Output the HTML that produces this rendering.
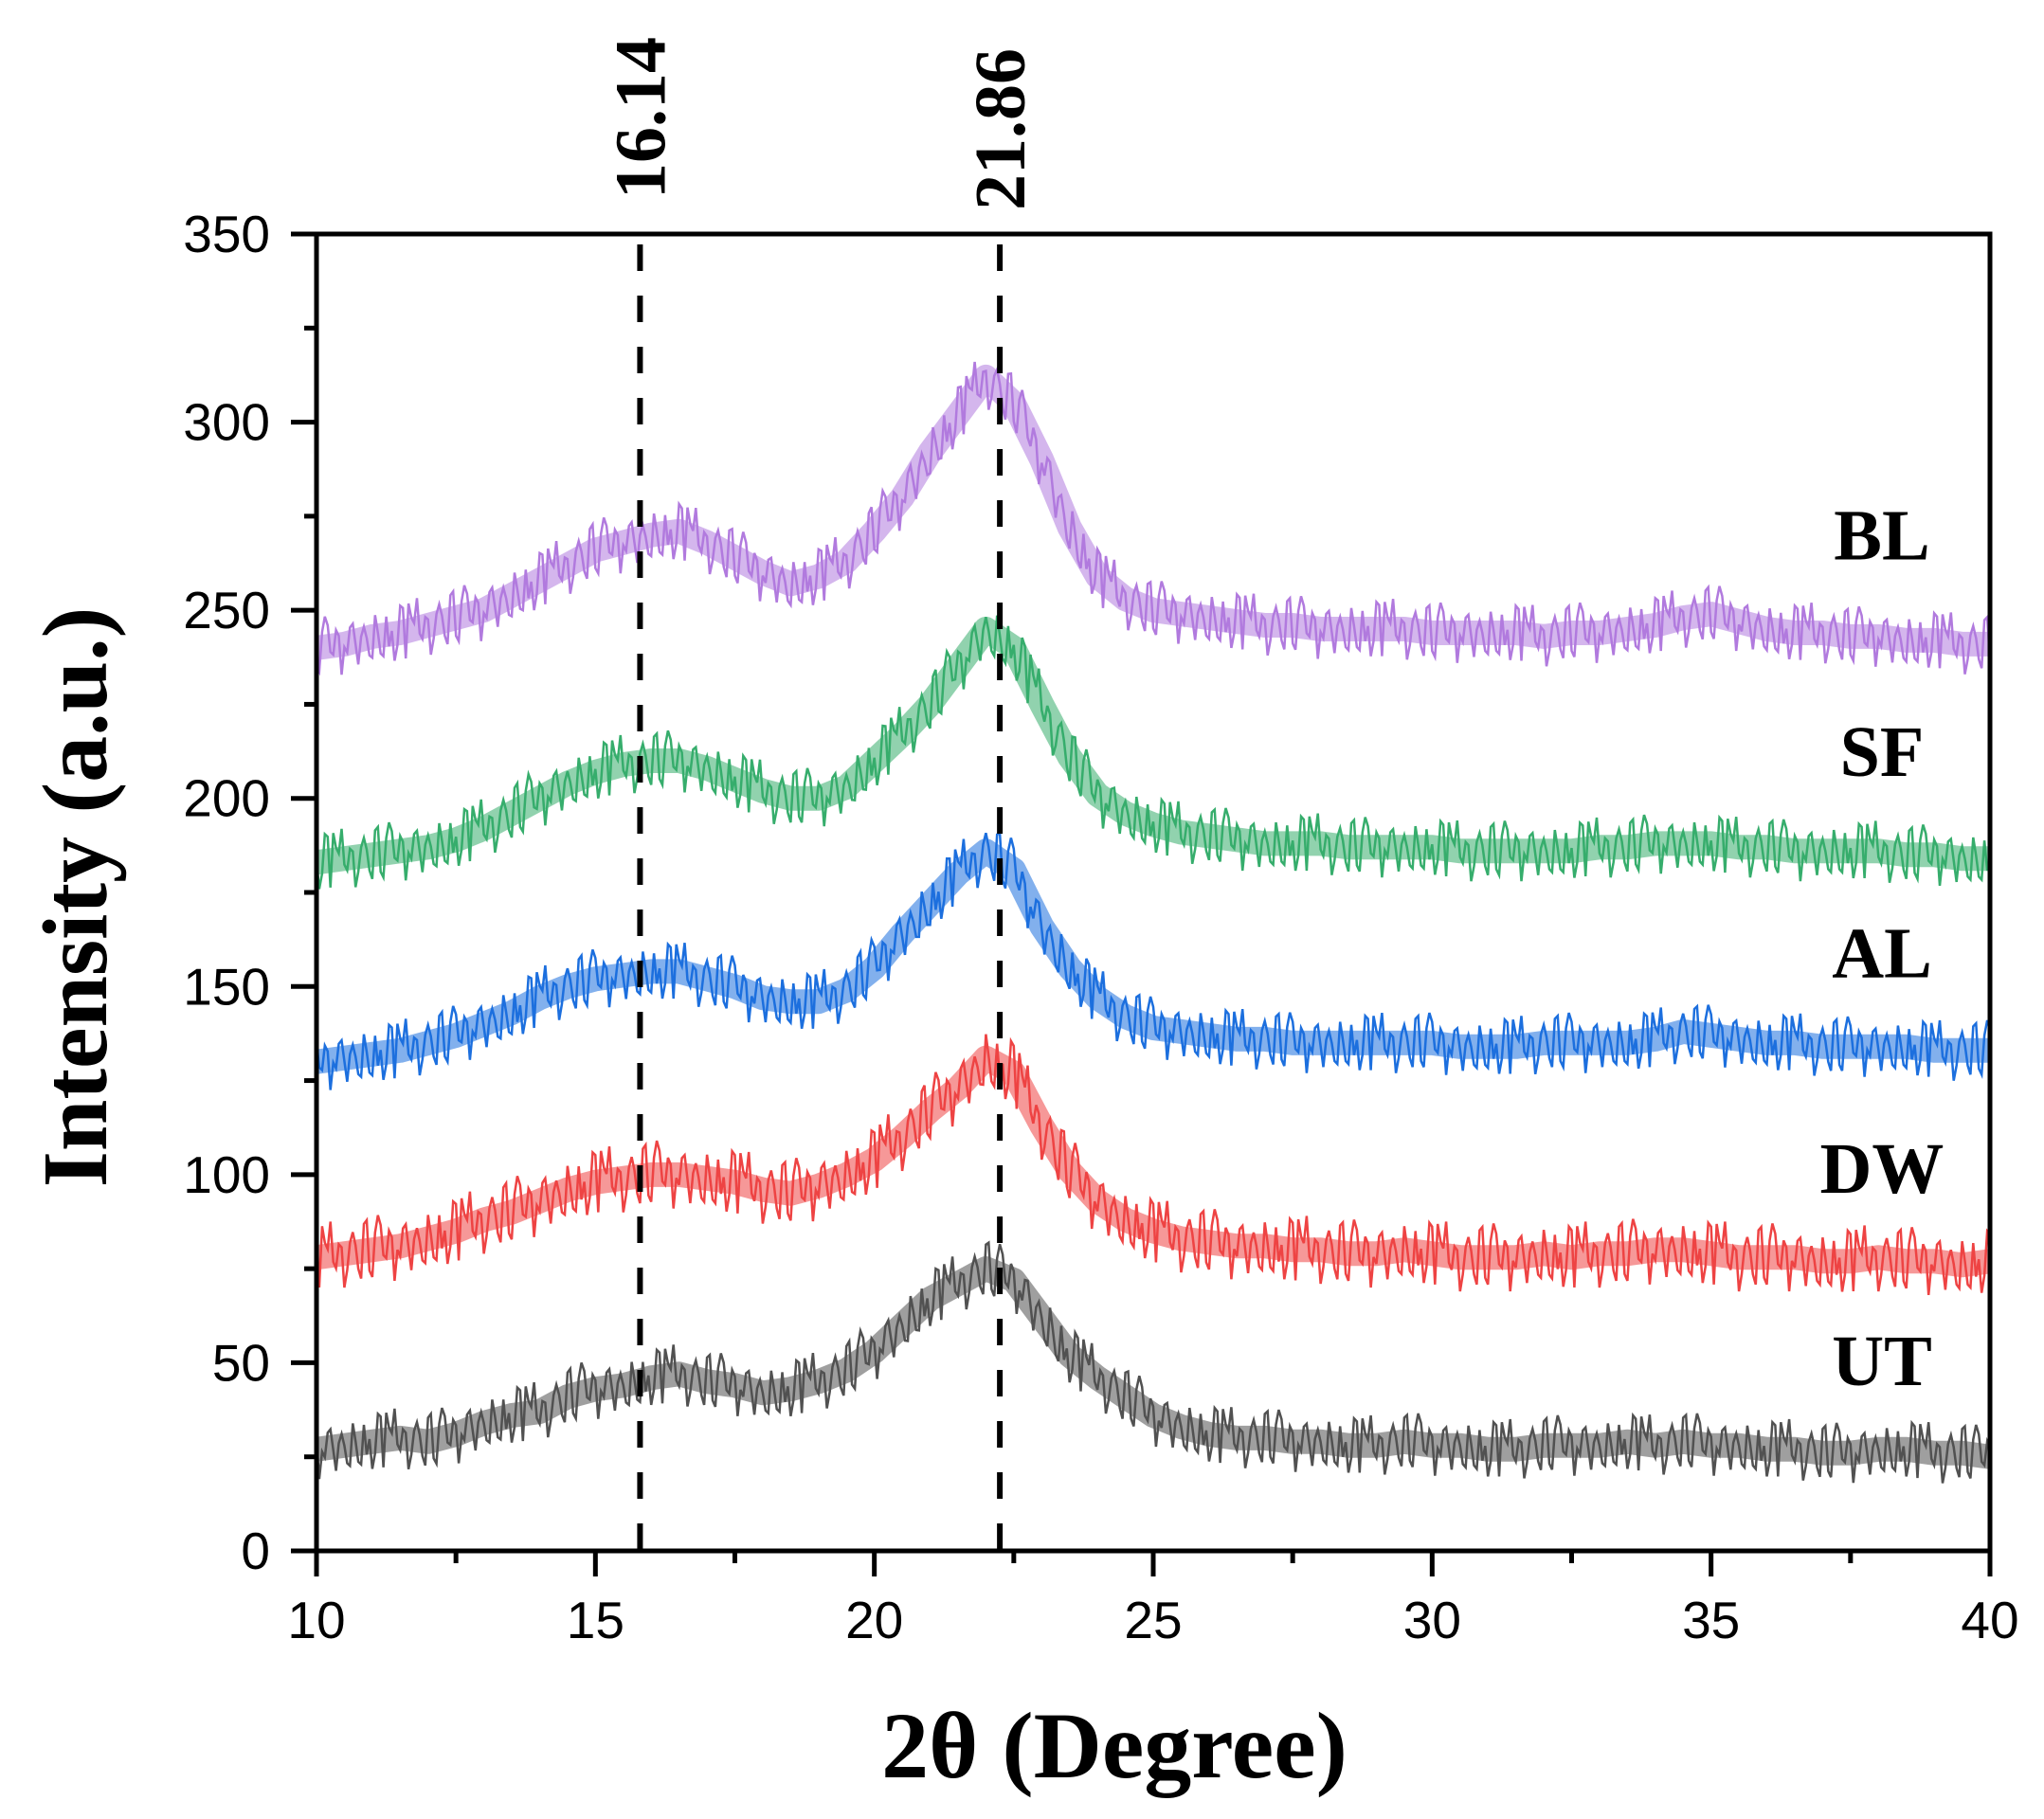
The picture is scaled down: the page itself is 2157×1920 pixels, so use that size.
<!DOCTYPE html>
<html><head><meta charset="utf-8"><style>
html,body{margin:0;padding:0;background:#fff;}
svg{display:block;}
</style></head><body>
<svg id="chart" width="2157" height="1920" viewBox="0 0 2157 1920" xmlns="http://www.w3.org/2000/svg">
<rect width="2157" height="1920" fill="#fff"/>
<g id="series"></g>
<g id="refs"></g>
<g id="axes"></g>
<text x="1176" y="1876" text-anchor="middle" font-family="Liberation Serif, serif" font-weight="bold" font-size="100">2θ (Degree)</text>
<text transform="translate(112,947) rotate(-90)" text-anchor="middle" font-family="Liberation Serif, serif" font-weight="bold" font-size="98">Intensity (a.u.)</text>
</svg>
<script>
const xs = [10,10.5,11,11.5,12,12.5,13,13.5,14,14.5,15,15.5,16,16.5,17,17.5,18,18.5,19,19.5,20,20.5,21,21.5,22,22.5,23,23.5,24,24.5,25,25.5,26,26.5,27,27.5,28,28.5,29,29.5,30,30.5,31,31.5,32,32.5,33,33.5,34,34.5,35,35.5,36,36.5,37,37.5,38,38.5,39,39.5,40];
const utValues = [27,28,29,30,29,31,34,36,37,41,43,44,46,47,45,44,42,43,45,48,53,60,67,71,75,72,62,52,46,41,36,33,31,30,30,29,29,28,28,29,28,28,27,27,28,28,28,29,28,29,28,28,27,27,26,26,27,27,26,26,25];
const dwValues = [78,79,80,81,83,85,88,90,93,96,98,99,100,100,99,98,96,95,97,100,104,110,117,123,131,127,113,101,93,88,85,83,82,81,81,80,80,79,79,80,79,78,78,78,79,78,79,79,80,80,79,78,78,78,77,77,78,77,77,76,77];
const alValues = [130,131,132,133,135,137,140,143,147,150,152,153,154,154,152,150,147,146,146,149,155,164,172,180,186,181,166,155,147,142,139,138,137,136,136,135,135,135,135,135,135,134,134,134,135,135,135,135,136,138,137,136,135,135,134,134,134,134,133,133,133];
const sfValues = [183,184,185,186,187,189,192,196,200,204,207,209,210,210,208,205,202,200,200,203,210,217,225,235,245,240,225,211,201,196,193,191,190,189,188,188,188,187,187,187,187,186,186,186,186,186,187,187,188,188,188,187,187,186,186,186,186,185,185,184,184];
const blValues = [240,241,243,244,246,248,250,254,258,262,266,268,270,271,268,264,260,257,259,263,271,280,292,302,312,305,290,272,259,253,250,249,248,247,246,246,245,245,245,245,244,244,244,244,243,244,244,245,246,248,249,247,245,244,244,243,243,242,242,241,241];
const jitter = [0.3,-0.8,0.6,-0.2,0.9,-0.6,0.1,-1,0.5,0.2,-0.4,0.8,-0.7,0.4,-0.1,1,-0.5,0.3,-0.9,0.6,0,-0.3,0.7,-0.8,0.2,0.9,-0.4,-0.6,0.5,-0.2,0.8,-1,0.4,0.1,-0.7,0.6,-0.3,0.9,-0.5,0.2,-0.9,0.7,-0.1,0.5,-0.6,0.3,1,-0.4,0.1,-0.8];
const noiseAmplitude = [8,9,8,8,8];
const seriesNames = ["UT","DW","AL","SF","BL"];
const seriesColors = ["#515151","#ee4343","#1c6fde","#36ad6c","#b17ade"];
const seriesData = [utValues, dwValues, alValues, sfValues, blValues];
const labelValues = [50.6,101.7,159,212.5,270];
const refLinePositions = [15.8, 22.25];
const refLineLabels = ["16.14","21.86"];
const xTicks = [10,15,20,25,30,35,40];
const yTicks = [0,50,100,150,200,250,300,350];

const X0=334, X1=2100, Y0=1637, Y1=247;
const xScale = v => X0 + (v-10)/(40-10)*(X1-X0);
const yScale = v => Y0 - v/350*(Y0-Y1);
const NS="http://www.w3.org/2000/svg";
function mk(tag, attrs, parent){const e=document.createElementNS(NS,tag);for(const k in attrs)e.setAttribute(k,attrs[k]);parent.appendChild(e);return e;}
function interp(vals, x){
  const step=(xs[xs.length-1]-xs[0])/(xs.length-1);
  let i=Math.floor((x-xs[0])/step); if(i>=xs.length-1)i=xs.length-2; if(i<0)i=0;
  const t=(x-xs[i])/step; return vals[i]*(1-t)+vals[i+1]*t;
}

const sg=document.getElementById('series');
seriesData.forEach((vals,si)=>{
  const smooth=vals.map((v,i)=>xScale(xs[i]).toFixed(1)+","+yScale(v).toFixed(1)).join(" ");
  const band=mk('polyline',{points:smooth,fill:'none',stroke:seriesColors[si],'stroke-width':26,'stroke-opacity':0.55,'stroke-linejoin':'round'},sg);
  
  
  const pts=[];
  const n=600;
  for(let k=0;k<=n;k++){
    const x=10+30*k/n;
    const v=interp(vals,x)+noiseAmplitude[si]*jitter[(k*7+si*11)%jitter.length];
    pts.push(xScale(x).toFixed(1)+","+yScale(v).toFixed(1));
  }
  const line=mk('polyline',{points:pts.join(" "),fill:'none',stroke:seriesColors[si],'stroke-width':2.5,'stroke-linejoin':'miter'},sg);
  
  
  const lab=mk('text',{x:1986,y:yScale(labelValues[si])+26,'text-anchor':'middle','font-family':'Liberation Serif, serif','font-weight':'bold','font-size':76},sg);
  lab.textContent=seriesNames[si];
  
  
});

const rg=document.getElementById('refs');
refLinePositions.forEach((p,i)=>{
  const l=mk('line',{x1:xScale(p),x2:xScale(p),y1:258,y2:Y0,stroke:'#000','stroke-width':6,'stroke-dasharray':'28 26'},rg);
  
  
  const t=mk('text',{transform:`translate(${xScale(p)+26},${i==0?210:222}) rotate(-90)`,'font-family':'Liberation Serif, serif','font-weight':'bold','font-size':76},rg);
  t.textContent=refLineLabels[i];
  
  
});

const ag=document.getElementById('axes');
const frame=mk('rect',{x:X0,y:Y1,width:X1-X0,height:Y0-Y1,fill:'none',stroke:'#000','stroke-width':5},ag);


for(let v=10; v<=40; v+=2.5){
  const major = xTicks.includes(v);
  const t=mk('line',{x1:xScale(v),x2:xScale(v),y1:Y0,y2:Y0+(major?27:13),stroke:'#000','stroke-width':5},ag);
  
  
}
xTicks.forEach(v=>{
  const t=mk('text',{x:xScale(v),y:1729,'text-anchor':'middle','font-family':'Liberation Sans, sans-serif','font-size':55},ag);
  t.textContent=v;
  
  
});
for(let v=0; v<=350; v+=25){
  const major = yTicks.includes(v);
  const t=mk('line',{x1:X0-(major?27:13),x2:X0,y1:yScale(v),y2:yScale(v),stroke:'#000','stroke-width':5},ag);
  
  
}
yTicks.forEach(v=>{
  const t=mk('text',{x:285,y:yScale(v)+19,'text-anchor':'end','font-family':'Liberation Sans, sans-serif','font-size':55},ag);
  t.textContent=v;
  
  
});
</script>
</body></html>
